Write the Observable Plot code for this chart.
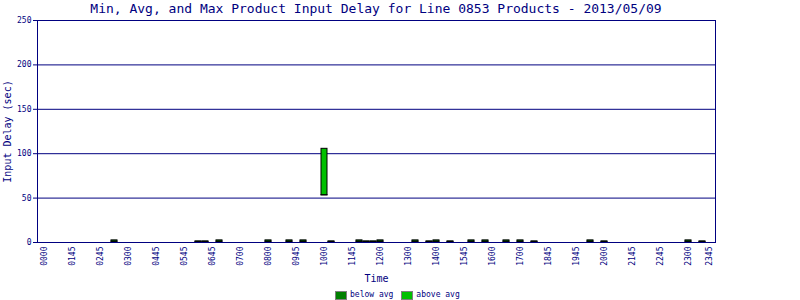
<!DOCTYPE html>
<html>
<head>
<meta charset="utf-8">
<script src="https://cdn.jsdelivr.net/npm/d3@7"></script>
<script src="https://cdn.jsdelivr.net/npm/@observablehq/plot@0.6"></script>
<style>
  html, body { margin: 0; padding: 0; background: #fff; }
  #wrap { position: relative; width: 800px; height: 300px; overflow: hidden; font-family: "DejaVu Sans Mono", monospace; color: #000080; }
  #title { position: absolute; top: 0; left: 37px; width: 678px; text-align: center; font-size: 13px; line-height: 18px; z-index: 2; }
  #chart { position: absolute; top: 0; left: 0; }
  #legend { position: absolute; top: 290px; left: 335px; font-size: 8px; line-height: 10px; display: flex; align-items: center; z-index: 2; }
  .sw { width: 10px; height: 7px; border: 1px solid #808080; display: inline-block; margin-right: 3px; }
  .lg { margin-right: 8px; }
</style>
</head>
<body>
<div id="wrap">
  <div id="chart"></div>
  <div id="title">Min, Avg, and Max Product Input Delay for Line 0853 Products - 2013/05/09</div>
  <div id="legend">
    <span class="sw" style="background:#008000"></span><span class="lg">below avg</span>
    <span class="sw" style="background:#00c000"></span><span class="lg">above avg</span>
  </div>
</div>
<script>
// 15-minute time slots (categories)
const slots = [
  "0000","0015","0030","0045","0100","0115","0130","0145","0200","0215","0230","0245",
  "0300","0315","0330","0345","0400","0415","0430","0445","0500","0515","0530","0545",
  "0600","0615","0630","0645","0700","0715","0730","0745","0800","0815","0830","0845",
  "0900","0915","0930","0945","1000","1015","1030","1045","1100","1115","1130","1145",
  "1200","1215","1230","1245","1300","1315","1330","1345","1400","1415","1430","1445",
  "1500","1515","1530","1545","1600","1615","1630","1645","1700","1715","1730","1745",
  "1800","1815","1830","1845","1900","1915","1930","1945","2000","2015","2030","2045",
  "2100","2115","2130","2145","2200","2215","2230","2245","2300","2315","2330","2345"
];
// tick positions and the labels shown there
const tickSlots = ["0000","0100","0200","0300","0400","0500","0600","0700","0800","0900","1000","1100",
  "1200","1300","1400","1500","1600","1700","1800","1900","2000","2100","2200","2300","2345"];
const tickLabels = ["0000","0145","0245","0300","0445","0545","0645","0700","0800","0945","1000","1145",
  "1200","1300","1400","1545","1600","1700","1845","1945","2000","2145","2245","2300","2345"];

// bars: slot, min, avg, max (seconds)
const barSlot = ["0230","0530","0545","0615","0800","0845","0915","1000","1015","1115","1130","1145","1200",
  "1315","1345","1400","1430","1515","1545","1630","1700","1730","1930","2000","2300","2330"];
const barMin  = [0,0,0,0,0,0,0,53,0,0,0,0,0, 0,0,0,0,0,0,0,0,0,0,0,0,0];
const barAvg  = [1,0.6,0.6,1,1,1,1,53.3,0.6,1,0.6,0.6,1, 1,0.6,1,0.6,1,1,1,1,0.6,1,0.6,1,0.6];
const barMax  = [2.4,1.3,1.3,2.4,2.4,2.4,2.4,105.5,1.3,2.4,1.3,1.3,2.4, 2.4,1.3,2.4,1.3,2.4,2.4,2.4,2.4,1.3,2.4,1.3,2.4,1.3];

const yTicks = [0, 50, 100, 150, 200, 250];
const gridLines = [50, 100, 150, 200];

const bars = barSlot.map((s, i) => ({slot: s, min: barMin[i], avg: barAvg[i], max: barMax[i]}));
const labelOf = new Map(tickSlots.map((s, i) => [s, tickLabels[i]]));

const navy = "#000080";
const chart = Plot.plot({
  width: 800,
  height: 300,
  marginTop: 20,
  marginLeft: 37,
  marginRight: 85,
  marginBottom: 58,
  style: {fontFamily: "DejaVu Sans Mono, monospace", color: navy, background: "white"},
  x: {type: "band", domain: slots, paddingInner: 0.15, paddingOuter: 0.075},
  y: {domain: [0, 250]},
  marks: [
    Plot.ruleY(gridLines, {stroke: navy, strokeWidth: 1}),
    Plot.barY(bars, {x: "slot", y1: "min", y2: "avg", fill: "#008000", stroke: "black", strokeWidth: 1}),
    Plot.barY(bars, {x: "slot", y1: "avg", y2: "max", fill: "#00c000", stroke: "black", strokeWidth: 1}),
    Plot.frame({stroke: navy, strokeWidth: 1}),
    Plot.axisY({ticks: yTicks, tickSize: 4, tickPadding: 2, fontSize: 8, stroke: navy, fill: navy,
      label: "Input Delay (sec)", labelAnchor: "center", labelArrow: "none", labelOffset: 34}),
    Plot.axisX({ticks: tickSlots, tickFormat: d => labelOf.get(d), tickRotate: -90, tickSize: 0, tickPadding: 4,
      fontSize: 8, fill: navy, label: null}),
    Plot.text(["Time"], {frameAnchor: "bottom", dy: 36, fontSize: 10, fill: navy, lineAnchor: "middle"})
  ]
});
chart.querySelectorAll("[aria-label='y-axis label'] text").forEach(t => t.setAttribute("font-size", "10"));
document.getElementById("chart").appendChild(chart);
</script>
</body>
</html>
